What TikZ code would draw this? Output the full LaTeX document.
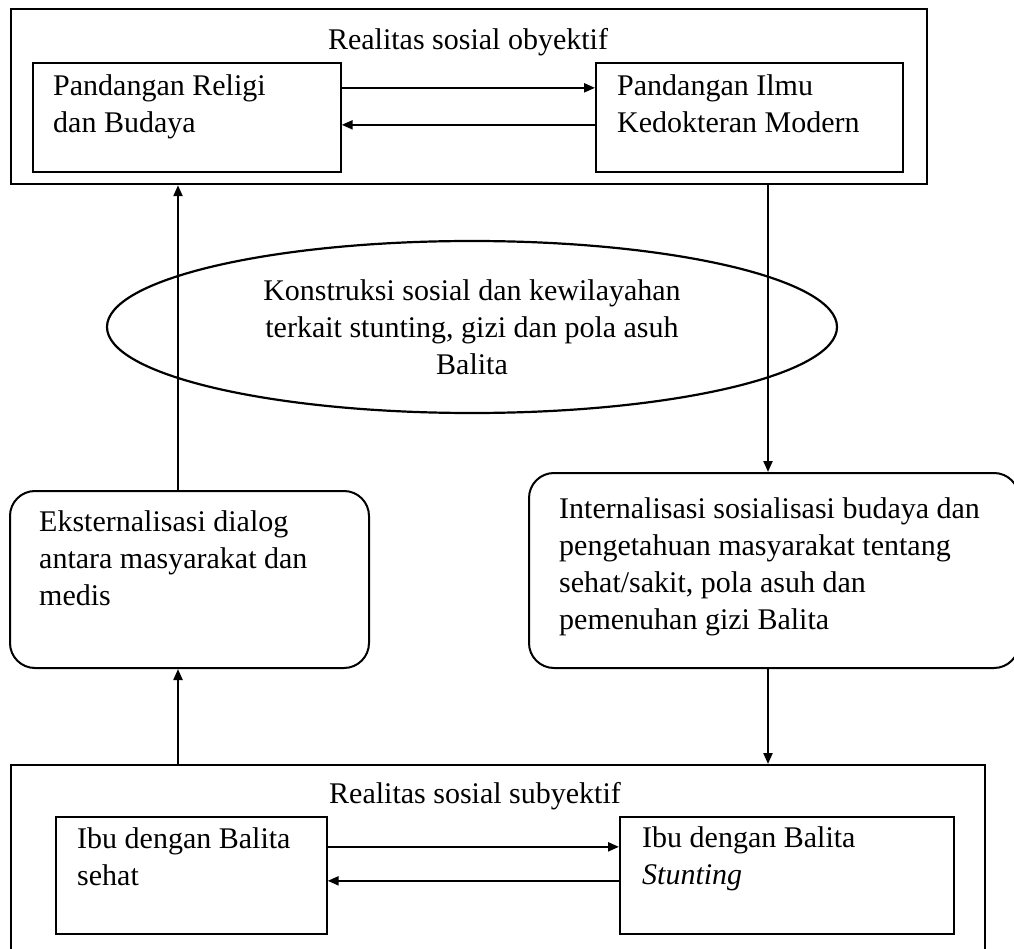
\documentclass[tikz,border=0pt]{standalone}
\usepackage{fontspec}
\setmainfont{Liberation Serif}
\usetikzlibrary{arrows.meta,shapes.geometric}
\begin{document}
\begin{tikzpicture}[x=1pt,y=-1pt,
    every node/.style={font=\fontsize{30}{37}\selectfont},
    bigbox/.style={draw, line width=2.2pt, inner sep=0pt, anchor=north west},
    smallbox/.style={draw, line width=1.7pt, inner sep=0pt, anchor=north west},
    roundbox/.style={draw, line width=2pt, rounded corners=25pt, inner sep=0pt, anchor=north west},
    txt/.style={inner sep=0pt, align=left, anchor=north west, execute at begin node=\strut},
    arr/.style={line width=2.2pt, -{Triangle[length=11pt,width=9pt]}}]
            \useasboundingbox (0,0) rectangle (1014,949);

            \node[bigbox, minimum width=916pt, minimum height=175pt] (obj) at (10,8) {};
            \node[anchor=base, inner sep=0pt] (objtitle) at (468,50) {Realitas sosial obyektif};
            \node[smallbox, minimum width=308pt, minimum height=109pt] (relig) at (32,62) {};
            \node[txt] (religtxt) at (53,74) {Pandangan Religi\\dan Budaya};
            \node[smallbox, minimum width=307pt, minimum height=109pt] (modern) at (595,62) {};
            \node[txt] (moderntxt) at (617,74) {Pandangan Ilmu\\Kedokteran Modern};
            \draw[arr] ([yshift=29.5pt]relig.east) -- ([yshift=29.5pt]modern.west);
            \draw[arr] ([yshift=-7.5pt]modern.west) -- ([yshift=-7.5pt]relig.east);

            \node[draw, ellipse, line width=2.2pt, minimum width=730pt, minimum height=172pt, inner sep=0pt, align=center] (konstr) at (472,327) {Konstruksi sosial dan kewilayahan\\terkait stunting, gizi dan pola asuh\\Balita};

            \node[roundbox, minimum width=359pt, minimum height=177pt] (ekst) at (9,490) {};
            \node[txt] (eksttxt) at (39,510) {Eksternalisasi dialog\\antara masyarakat dan\\medis};
            \node[roundbox, minimum width=490pt, minimum height=195pt] (intern) at (528,472) {};
            \node[txt] (interntxt) at (559,497) {Internalisasi sosialisasi budaya dan\\pengetahuan masyarakat tentang\\sehat/sakit, pola asuh dan\\pemenuhan gizi Balita};

            \node[bigbox, minimum width=974pt, minimum height=200pt] (subj) at (10,764) {};
            \node[txt] (subjtitle) at (329,777) {Realitas sosial subyektif};
            \node[smallbox, minimum width=271pt, minimum height=117pt] (sehat) at (55,816) {};
            \node[txt] (sehattxt) at (77,827) {Ibu dengan Balita\\sehat};
            \node[smallbox, minimum width=334pt, minimum height=117pt] (stunt) at (619,816) {};
            \node[txt] (stunttxt) at (642,826) {Ibu dengan Balita\\\textit{Stunting}};
            \draw[arr] ([yshift=28.5pt]sehat.east) -- ([yshift=28.5pt]stunt.west);
            \draw[arr] ([yshift=-5.5pt]stunt.west) -- ([yshift=-5.5pt]sehat.east);

            \draw[arr] ([xshift=-11.5pt]ekst.north) -- ([xshift=-11.5pt]ekst.north |- obj.south);
            \draw[arr] ([xshift=-6pt]intern.north |- obj.south) -- ([xshift=-6pt]intern.north);
            \draw[arr] ([xshift=-11.5pt]ekst.south |- subj.north) -- ([xshift=-11.5pt]ekst.south);
            \draw[arr] ([xshift=-6pt]intern.south) -- ([xshift=-6pt]intern.south |- subj.north);
        \end{tikzpicture}
\end{document}
